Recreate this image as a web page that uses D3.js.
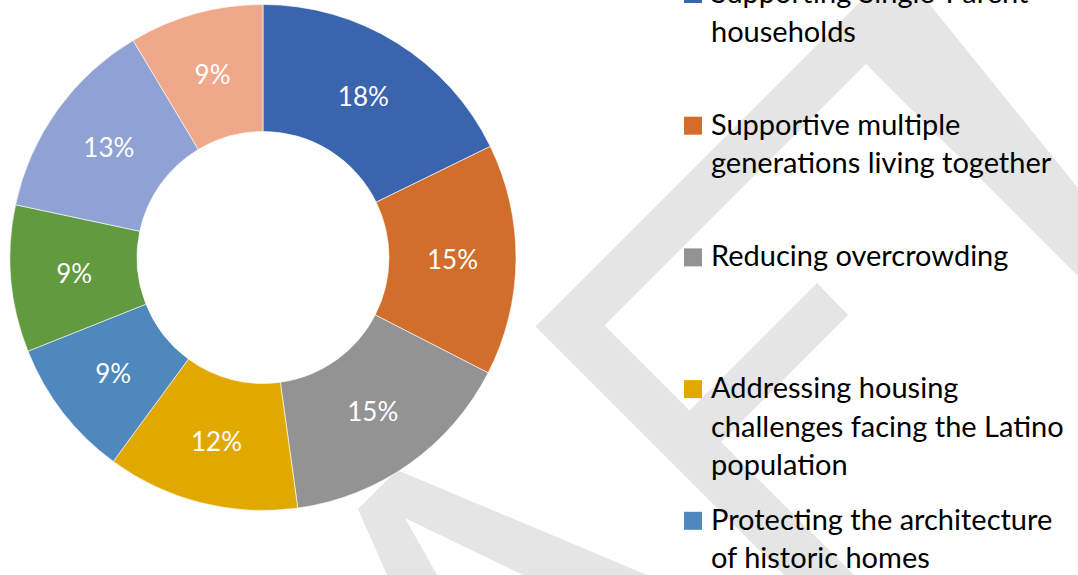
<!DOCTYPE html>
<html>
<head>
<meta charset="utf-8">
<script src="https://cdn.jsdelivr.net/npm/d3@7"></script>
<style>
  body { margin: 0; background: #fff; }
  svg { display: block; }
</style>
</head>
<body>
<div id="chart"></div>
<script>
// slice shares (%), clockwise from 12 o'clock
var shares = [17.8, 14.8, 15.3, 12.3, 8.9, 9.4, 13.1, 8.6];
var colors = ["#3a64ad", "#d26e2b", "#939393", "#e1a900", "#4e88bd", "#629a40", "#8fa2d3", "#f0a88a"];
// legend entries that show in the frame (the rest sit below the crop)
var legendLabels = [
  ["Supporting Single-Parent", "households"],
  ["Supportive multiple", "generations living together"],
  ["Reducing overcrowding"],
  ["Addressing housing", "challenges facing the Latino", "population"],
  ["Protecting the architecture", "of historic homes"]
];

var width = 1078,
    height = 575;

var svg = d3.select("#chart").append("svg")
    .attr("width", width)
    .attr("height", height);

// light grey watermark behind everything
var wm = svg.append("g").attr("fill", "#e5e5e5");
var shapes = [
  [[535.5, 326.5], [862, 0], [926, 0], [1078, 188], [1078, 276], [866, 64],
   [604.5, 325.5], [854, 575], [784, 575]],
  [[817, 283], [848, 315], [703.5, 459.5], [672, 428]],
  [[358, 509], [397, 470], [647, 575], [523, 575], [405, 518], [437, 575], [387, 575]]
];
wm.selectAll("path")
  .data(shapes)
  .enter()
  .append("path")
  .attr("d", function (d) { return d3.line()(d) + "Z"; });

// donut
var cx = 263, cy = 257.5;
var pie = d3.pie().sort(null).value(function (d) { return d; });
var arc = d3.arc().innerRadius(126).outerRadius(253);

var g = svg.append("g").attr("transform", "translate(" + cx + "," + cy + ")");

g.selectAll("path")
  .data(pie(shares))
  .enter()
  .append("path")
  .attr("d", arc)
  .attr("fill", function (d, i) { return colors[i]; })
  .attr("stroke", "#fff")
  .attr("stroke-width", 0.6);

g.selectAll("text")
  .data(pie(shares))
  .enter()
  .append("text")
  .attr("transform", function (d) { return "translate(" + arc.centroid(d) + ")"; })
  .attr("text-anchor", "middle")
  .attr("dy", "0.36em")
  .attr("fill", "#fff")
  .style("font-family", "Lato, 'Open Sans', sans-serif")
  .style("font-size", "26px")
  .text(function (d) { return Math.round(d.data) + "%"; });

// legend
var legX = 684,
    firstBase = 3,
    itemStep = 131.7,
    lineStep = 38.5,
    box = 18;

var leg = svg.append("g");
var items = leg.selectAll("g.item")
  .data(legendLabels)
  .enter()
  .append("g")
  .attr("class", "item")
  .attr("transform", function (d, i) { return "translate(" + legX + "," + (firstBase + i * itemStep) + ")"; });

items.append("rect")
  .attr("x", 0)
  .attr("y", -box)
  .attr("width", box)
  .attr("height", box)
  .attr("fill", function (d, i) { return colors[i]; });

items.append("text")
  .attr("x", 27)
  .attr("y", 0)
  .attr("fill", "#000")
  .style("font-family", "Lato, 'Open Sans', sans-serif")
  .style("font-size", "29px")
  .selectAll("tspan")
  .data(function (d) { return d; })
  .enter()
  .append("tspan")
  .attr("x", 27)
  .attr("dy", function (d, i) { return i === 0 ? 0 : lineStep; })
  .text(function (d) { return d; });
</script>
</body>
</html>
